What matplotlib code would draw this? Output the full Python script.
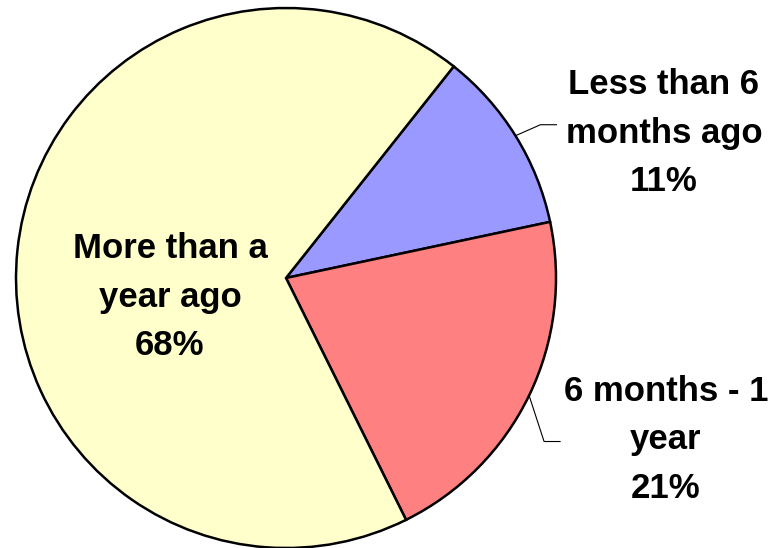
import numpy as np
import matplotlib.pyplot as plt

labels = ["Less than 6\nmonths ago", "6 months - 1\nyear", "More than a\nyear ago"]
values = [11, 21, 68]
colors = ["#9999FF", "#FF8080", "#FFFFCC"]

plt.rcParams['font.family'] = ['Liberation Sans', 'DejaVu Sans']

W, H = 772, 548
fig = plt.figure(figsize=(W / 100, H / 100), dpi=100)
ax = fig.add_axes([0, 0, 1, 1])

cx, cy, r = 286, H - 278, 270
wedges, _ = ax.pie(values, colors=colors, startangle=51.6, counterclock=False,
                   center=(cx, cy), radius=r, frame=True,
                   wedgeprops=dict(edgecolor='black', linewidth=1.8))
ax.set_xlim(0, W)
ax.set_ylim(0, H)
ax.set_aspect('equal')
ax.axis('off')

# label positions (pixel coords from top-left) and leader elbows
label_pos = [(664, 133), (666, 440), (170, 297)]
elbow = [(25, 11), (15, -46), None]

for w, lab, v, (lx, ly), el in zip(wedges, labels, values, label_pos, elbow):
    ax.text(lx, H - ly, f"{lab}\n{v}%", ha='center', va='center',
            fontsize=25, fontweight='bold', linespacing=1.58)
    if el is not None:
        ang = np.deg2rad((w.theta1 + w.theta2) / 2)
        x0, y0 = cx + r * np.cos(ang), cy + r * np.sin(ang)
        x1, y1 = x0 + el[0], y0 + el[1]
        ax.plot([x0, x1, x1 + 16], [y0, y1, y1], color='black', lw=0.8)

fig.savefig("out.png", dpi=100)
